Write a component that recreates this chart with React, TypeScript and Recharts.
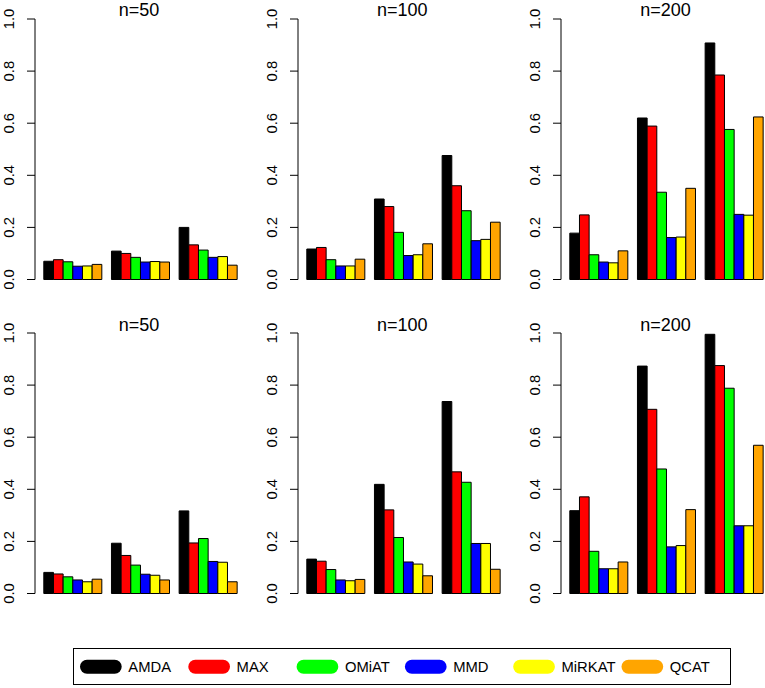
import { BarChart, Bar, XAxis, YAxis } from "recharts"

const series = ["AMDA", "MAX", "OMiAT", "MMD", "MiRKAT", "QCAT"]
const colors = ["#000000", "#FF0000", "#00FF00", "#0000FF", "#FFFF00", "#FFA500"]
const groups = ["1", "2", "3"]
const yTicks = [0, 0.2, 0.4, 0.6, 0.8, 1]
const titles = ["n=50", "n=100", "n=200"]

// one row per series (AMDA..QCAT), one value per group
const upper50 = [
    [0.070, 0.109, 0.200],
    [0.076, 0.100, 0.133],
    [0.068, 0.085, 0.113],
    [0.051, 0.067, 0.085],
    [0.052, 0.069, 0.088],
    [0.058, 0.067, 0.055],
]
const upper100 = [
    [0.117, 0.309, 0.476],
    [0.123, 0.280, 0.360],
    [0.076, 0.181, 0.264],
    [0.052, 0.092, 0.149],
    [0.052, 0.095, 0.154],
    [0.078, 0.137, 0.220],
]
const upper200 = [
    [0.178, 0.620, 0.908],
    [0.248, 0.589, 0.785],
    [0.095, 0.335, 0.576],
    [0.067, 0.161, 0.250],
    [0.064, 0.163, 0.247],
    [0.110, 0.350, 0.624],
]
const lower50 = [
    [0.081, 0.193, 0.317],
    [0.075, 0.146, 0.194],
    [0.064, 0.109, 0.211],
    [0.052, 0.074, 0.123],
    [0.045, 0.070, 0.120],
    [0.055, 0.052, 0.045],
]
const lower100 = [
    [0.132, 0.419, 0.737],
    [0.124, 0.321, 0.467],
    [0.092, 0.215, 0.427],
    [0.052, 0.121, 0.192],
    [0.049, 0.113, 0.192],
    [0.054, 0.068, 0.093],
]
const lower200 = [
    [0.318, 0.873, 0.995],
    [0.371, 0.707, 0.875],
    [0.162, 0.478, 0.788],
    [0.095, 0.179, 0.260],
    [0.095, 0.184, 0.260],
    [0.121, 0.322, 0.569],
]

const rows = [
    [upper50, upper100, upper200],
    [lower50, lower100, lower200],
]

const FONT = "'Liberation Sans', Arial, Helvetica, sans-serif"
const panelLefts = [-0.4, 262.8, 526]
const rowTops = [8.7, 323.3]
const titleBaselines = [16.5, 331.5]

function toRows(values: number[][]) {
    return groups.map((g, gi) => {
        const row: Record<string, string | number> = { group: g }
        series.forEach((s, si) => {
            row[s] = values[si][gi]
        })
        return row
    })
}

function RotatedTick(props: any) {
    const { x, y, payload } = props
    const tx = x - 13.3
    return (
        <text
            x={tx}
            y={y}
            transform={`rotate(-90, ${tx}, ${y})`}
            textAnchor="middle"
            fontSize={14.8}
            fontFamily={FONT}
            fill="#000"
        >
            {Number(payload.value).toFixed(1)}
        </text>
    )
}

function Panel({ values, left, top }: { values: number[][]; left: number; top: number }) {
    return (
        <div style={{ position: "absolute", left, top }}>
            <BarChart
                width={249}
                height={280.5}
                data={toRows(values)}
                margin={{ top: 10, right: 5, bottom: 10, left: 0 }}
                barGap={0}
            >
                <XAxis dataKey="group" hide padding={{ left: 3.8, right: 2.2 }} />
                <YAxis
                    domain={[0, 1]}
                    ticks={yTicks}
                    interval={0}
                    width={35}
                    tickSize={8}
                    tickMargin={0}
                    tick={<RotatedTick />}
                    axisLine={{ stroke: "#000", strokeWidth: 1 }}
                    tickLine={{ stroke: "#000", strokeWidth: 1 }}
                />
                {series.map((s, i) => (
                    <Bar
                        key={s}
                        dataKey={s}
                        fill={colors[i]}
                        stroke="#000"
                        strokeWidth={1}
                        barSize={9.67}
                        isAnimationActive={false}
                    />
                ))}
            </BarChart>
        </div>
    )
}

function Legend() {
    const step = 108.3
    return (
        <svg width={765} height={688} style={{ position: "absolute", left: 0, top: 0, pointerEvents: "none" }}>
            <rect x={73.5} y={648.5} width={657} height={36} fill="none" stroke="#000" strokeWidth={1} />
            {series.map((s, i) => (
                <g key={s}>
                    <rect x={80 + step * i} y={659.7} width={41.7} height={14} rx={7} ry={7} fill={colors[i]} />
                    <text x={128.3 + step * i} y={672} fontSize={14.8} fontFamily={FONT} fill="#000">
                        {s}
                    </text>
                </g>
            ))}
        </svg>
    )
}

export default function App() {
    return (
        <div
            style={{
                position: "absolute",
                left: 0,
                top: 0,
                width: 765,
                height: 688,
                background: "#fff",
                fontFamily: FONT,
            }}
        >
            {rows.map((row, ri) =>
                row.map((values, ci) => (
                    <Panel key={`${ri}-${ci}`} values={values} left={panelLefts[ci]} top={rowTops[ri]} />
                ))
            )}
            {rows.map((row, ri) =>
                titles.map((t, ci) => (
                    <div
                        key={`t${ri}-${ci}`}
                        style={{
                            position: "absolute",
                            left: panelLefts[ci] + 35,
                            width: 209,
                            top: titleBaselines[ri] - 15.2,
                            textAlign: "center",
                            fontSize: 18,
                            lineHeight: "18px",
                            color: "#000",
                        }}
                    >
                        {t}
                    </div>
                ))
            )}
            <Legend />
        </div>
    )
}
